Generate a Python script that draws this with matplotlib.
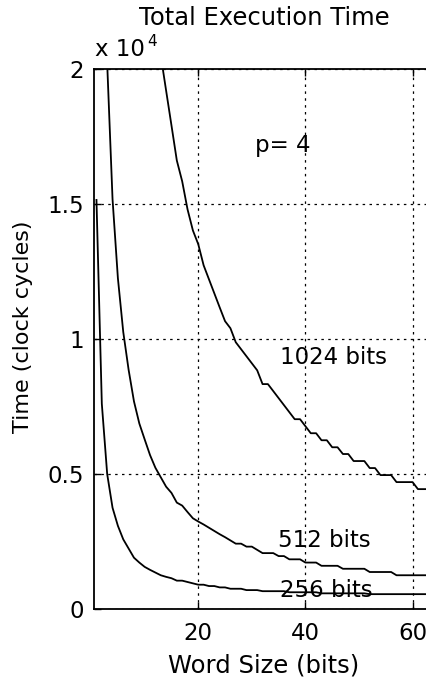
import numpy as np
import matplotlib
matplotlib.use('Agg')
import matplotlib.pyplot as plt

# --- Data (clock cycles vs word size, p = 4) ---
t_256 = [15150, 7600, 5000, 3750, 3080, 2580, 2240, 1900, 1720, 1560,
         1450, 1350, 1250, 1190, 1140, 1050, 1050, 1000, 950, 900,
         900, 850, 850, 800, 800, 750, 750, 750, 700, 700,
         700, 660, 660, 660, 660, 660, 620, 620, 620, 620,
         620, 620, 580, 580, 580, 580, 580, 580, 580, 580,
         580, 550, 550, 550, 550, 550, 550, 550, 550, 550,
         550, 550, 550, 500]
t_512 = [20210, 15180, 12250, 10260, 8860, 7690, 6870, 6280, 5700, 5230,
         4880, 4530, 4300, 3940, 3830, 3590, 3360, 3240, 3130, 3010,
         2890, 2770, 2660, 2540, 2420, 2420, 2310, 2310, 2190, 2070,
         2070, 2070, 1960, 1960, 1840, 1840, 1840, 1720, 1720, 1720,
         1600, 1600, 1600, 1600, 1490, 1490, 1490, 1490, 1490, 1370,
         1370, 1370, 1370, 1370, 1250, 1250, 1250, 1250, 1250, 1250,
         1250, 1140]
t_1024 = [20500, 19200, 17910, 16610, 15840, 14800, 14020, 13510, 12730, 12210,
          11690, 11170, 10660, 10400, 9880, 9620, 9360, 9100, 8840, 8330,
          8330, 8070, 7810, 7550, 7290, 7030, 7030, 6770, 6510, 6510,
          6250, 6250, 5990, 5990, 5740, 5740, 5480, 5480, 5480, 5220,
          5220, 4960, 4960, 4960, 4700, 4700, 4700, 4700, 4440, 4440,
          4440, 4180]
w_256 = np.arange(1, 1 + len(t_256))
w_512 = np.arange(3, 3 + len(t_512))
w_1024 = np.arange(13, 13 + len(t_1024))

yticks = [0, 5000, 10000, 15000, 20000]
ytick_labels = ['0', '0.5', '1', '1.5', '2']
xticks = [20, 40, 60]

fs = 16.5

fig = plt.figure(figsize=(4.26, 6.77), dpi=100)
ax = fig.add_axes([94/426, 68/677, 340/426, 540/677])

for w, t in [(w_256, t_256), (w_512, t_512), (w_1024, t_1024)]:
    ax.plot(w, t, color='black', lw=1.3)

ax.set_xlim(0.54, 64)
ax.set_ylim(0, 20000)
ax.set_xticks(xticks)
ax.set_yticks(yticks)
ax.set_yticklabels(ytick_labels)
ax.tick_params(direction='in', length=5, top=True, right=True, labelsize=fs, width=1)
ax.tick_params(axis='x', pad=9)
ax.tick_params(axis='y', pad=7)
ax.grid(True, color='black', linestyle=(0, (2, 3.5)), lw=0.9)
for s in ax.spines.values():
    s.set_linewidth(1.3)

# annotations
ax.text(30.6, 17185, 'p= 4', fontsize=fs, ha='left', va='center')
ax.text(35.2, 9300, '1024 bits', fontsize=fs, ha='left', va='center')
ax.text(34.9, 2520, '512 bits', fontsize=fs, ha='left', va='center')
ax.text(35.2, 700, '256 bits', fontsize=fs, ha='left', va='center')

# titles, labels, exponent
fig.text(264/426, 1 - 18/677, 'Total Execution Time', fontsize=17.5, ha='center', va='center')
fig.text(264/426, 1 - 665/677, 'Word Size (bits)', fontsize=17.5, ha='center', va='center')
fig.text(23/426, 1 - 327/677, 'Time (clock cycles)', fontsize=16, rotation=90, ha='center', va='center')
fig.text(95/426, 1 - 50/677, 'x 10', fontsize=fs, ha='left', va='center')
fig.text(147/426, 1 - 42/677, '4', fontsize=11, ha='left', va='center')

fig.savefig('out.png', dpi=100)
